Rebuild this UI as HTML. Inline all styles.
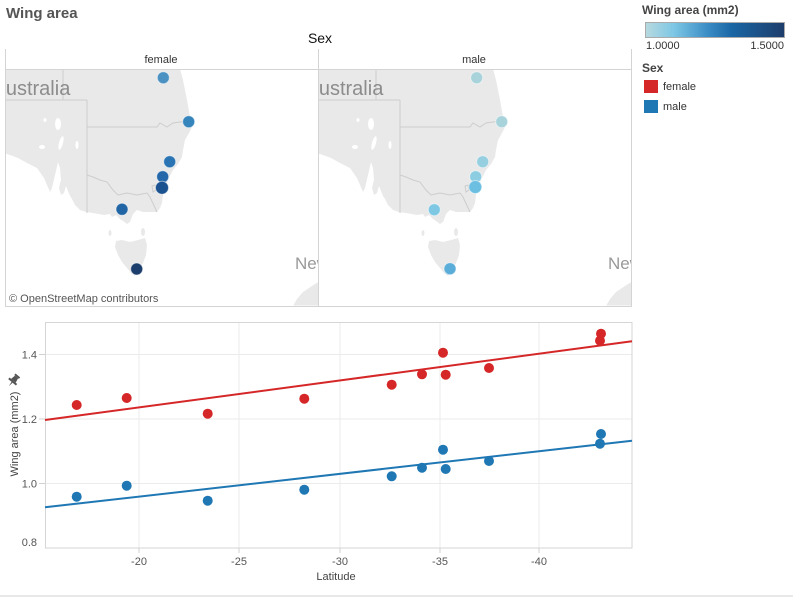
<!DOCTYPE html>
<html><head><meta charset="utf-8"><style>
html,body{margin:0;padding:0;background:#fff;}
svg{display:block;font-family:"Liberation Sans",Arial,sans-serif;}
</style></head><body>
<svg width="793" height="597" viewBox="0 0 793 597" xmlns="http://www.w3.org/2000/svg">
<defs>
<clipPath id="cf"><rect x="6" y="69.5" width="312" height="236"/></clipPath>
<clipPath id="cm"><rect x="318.5" y="69.5" width="312.5" height="236"/></clipPath>
<linearGradient id="gr" x1="0" x2="1" y1="0" y2="0">
<stop offset="0" stop-color="#b8d9df"/>
<stop offset="0.2" stop-color="#7ec7e5"/>
<stop offset="0.45" stop-color="#3a8cc5"/>
<stop offset="0.62" stop-color="#1a67a5"/>
<stop offset="1" stop-color="#1d3d6b"/>
</linearGradient>
<g id="map">
<path fill="#e9e9e9" d="M0,60 L180,60 L180,69 L183,80 L185,90 L187,100 L190,117 L192,127 L189,133 L185,140 L183,150 L182,157 L178,164 L173,170 L169,178 L167,183 L164,190 L163,195 L162,203 L160,208 L157,212 L150,212 L143,212 L137,210 L133,214 L130,222 L127,224 L123,221 L120,219 L116,215 L112,217 L110,214 L104,215 L93,213 L86,212 L80,210 L75,205 L72,199 L70,196 L68,191 L66,186 L64,193 L61,195 L59,188 L61,180 L60,168 L58,162 L55,175 L52,188 L50,192 L47,185 L44,178 L37,168 L27,163 L18,158 L10,155 L0,152 Z"/>
<path fill="#e9e9e9" d="M116,241 L122,240 L130,242 L138,240 L145,238 L147,245 L146,255 L143,263 L139,270 L135,276 L131,273 L127,268 L122,262 L118,255 L115,247 Z"/>
<ellipse cx="143" cy="232" rx="2" ry="4" fill="#e9e9e9"/>
<ellipse cx="110" cy="233" rx="1.5" ry="3" fill="#e9e9e9"/>
<path fill="#e9e9e9" d="M325,278 L312,286 L303,292 L297,299 L293,306 L325,310 Z"/>
<ellipse cx="58" cy="124" rx="3" ry="6" fill="#fff"/>
<ellipse cx="61" cy="143" rx="2" ry="7" fill="#fff" transform="rotate(15 61 143)"/>
<ellipse cx="42" cy="147" rx="3" ry="2" fill="#fff"/>
<ellipse cx="77" cy="145" rx="1.5" ry="4" fill="#fff"/>
<ellipse cx="45" cy="120" rx="1.5" ry="2" fill="#fff"/>
<g fill="none" stroke="#cdcdcd" stroke-width="1">
<path d="M63,69 L63,100"/>
<path d="M0,100 L87,100"/>
<path d="M87,100 L87,213"/>
<path d="M87,127 L157,127 L160,123 L167,127 L173,123 L180,122 L190,121"/>
<path d="M87,175 L93,177 L100,180 L107,182 L113,190 L118,195 L127,193 L137,195 L147,193 L150,197 L157,212"/>
<path d="M152,186 L155,185 L156,190 L153,192 Z"/>
</g>
<text x="-7.5" y="95" font-size="20" fill="#8c8c8c">Australia</text>
<text x="295" y="269" font-size="17" fill="#999">New Zealand</text>
</g>
</defs>

<!-- title -->
<text x="6" y="18" font-size="15" font-weight="bold" fill="#555">Wing area</text>
<text x="320" y="43" font-size="14" fill="#111" text-anchor="middle">Sex</text>

<!-- map panels -->
<g clip-path="url(#cf)"><use href="#map"/></g>
<g clip-path="url(#cm)"><use href="#map" transform="translate(313,0)"/></g>
<g fill="none" stroke="#d4d4d4" stroke-width="1">
<path d="M5.5,49 L5.5,306.5 L631.5,306.5 L631.5,49"/>
<path d="M318.5,49 L318.5,306.5"/>
<path d="M5.5,69.5 L631.5,69.5"/>
</g>
<text x="161" y="63" font-size="11" fill="#333" text-anchor="middle">female</text>
<text x="474" y="63" font-size="11" fill="#333" text-anchor="middle">male</text>
<text x="9" y="302" font-size="11" fill="#555">© OpenStreetMap contributors</text>

<!-- map points female -->
<g stroke="#fff" stroke-opacity="0.5" stroke-width="1">
<circle cx="163.3" cy="77.7" r="6" fill="#4b92c3"/>
<circle cx="188.7" cy="121.7" r="6" fill="#3584bb"/>
<circle cx="169.7" cy="161.7" r="6" fill="#2a74b3"/>
<circle cx="162.7" cy="176.7" r="6" fill="#2468a9"/>
<circle cx="162" cy="187.7" r="6.5" fill="#1b5290"/>
<circle cx="122" cy="209.3" r="6" fill="#2165a5"/>
<circle cx="136.7" cy="269" r="6" fill="#1c3e6d"/>
<!-- male -->
<circle cx="476.7" cy="77.7" r="6" fill="#a8d3db"/>
<circle cx="501.7" cy="121.7" r="6" fill="#a9d3db"/>
<circle cx="482.7" cy="161.7" r="6" fill="#96cfe0"/>
<circle cx="475.7" cy="176.7" r="6" fill="#8dcde2"/>
<circle cx="475.3" cy="187" r="6.5" fill="#6dbfe2"/>
<circle cx="434.3" cy="209.7" r="6" fill="#7ec8e4"/>
<circle cx="450" cy="268.7" r="6" fill="#5badd9"/>
</g>

<!-- legend -->
<text x="642" y="14" font-size="12" font-weight="bold" fill="#444">Wing area (mm2)</text>
<rect x="645.5" y="22.5" width="139" height="15" fill="url(#gr)" stroke="#aaa" stroke-width="1"/>
<text x="646" y="49" font-size="11" fill="#333">1.0000</text>
<text x="784" y="49" font-size="11" fill="#333" text-anchor="end">1.5000</text>
<text x="642" y="72" font-size="12" font-weight="bold" fill="#444">Sex</text>
<rect x="644" y="80" width="14" height="13" fill="#d62728"/>
<text x="663" y="90" font-size="11" fill="#333">female</text>
<rect x="644" y="100" width="14" height="13" fill="#1f77b4"/>
<text x="663" y="110" font-size="11" fill="#333">male</text>

<!-- scatter chart -->
<g stroke="#ebebeb" stroke-width="1">
<line x1="139" y1="322" x2="139" y2="548"/>
<line x1="239" y1="322" x2="239" y2="548"/>
<line x1="340" y1="322" x2="340" y2="548"/>
<line x1="440" y1="322" x2="440" y2="548"/>
<line x1="539" y1="322" x2="539" y2="548"/>
<line x1="45" y1="354.5" x2="632" y2="354.5"/>
<line x1="45" y1="419" x2="632" y2="419"/>
<line x1="45" y1="483.5" x2="632" y2="483.5"/>
</g>
<rect x="45.5" y="322.5" width="586.5" height="225.5" fill="none" stroke="#d6d6d6" stroke-width="1"/>
<g stroke="#d0d0d0" stroke-width="1">
<line x1="39" y1="354.5" x2="45" y2="354.5"/>
<line x1="39" y1="419" x2="45" y2="419"/>
<line x1="39" y1="483.5" x2="45" y2="483.5"/>
<line x1="139" y1="548" x2="139" y2="553"/>
<line x1="239" y1="548" x2="239" y2="553"/>
<line x1="340" y1="548" x2="340" y2="553"/>
<line x1="440" y1="548" x2="440" y2="553"/>
<line x1="539" y1="548" x2="539" y2="553"/>
</g>
<g font-size="11" fill="#555" text-anchor="end">
<text x="37" y="358.5">1.4</text>
<text x="37" y="423">1.2</text>
<text x="37" y="487.5">1.0</text>
<text x="37" y="546">0.8</text>
</g>
<g font-size="11" fill="#555" text-anchor="middle">
<text x="139" y="565">-20</text>
<text x="239" y="565">-25</text>
<text x="340" y="565">-30</text>
<text x="440" y="565">-35</text>
<text x="539" y="565">-40</text>
<text x="336" y="580" fill="#444">Latitude</text>
</g>
<text transform="translate(18,434) rotate(-90)" font-size="11" fill="#444" text-anchor="middle">Wing area (mm2)</text>
<!-- pin icon -->
<g transform="translate(14,380) rotate(40)" fill="#555">
<rect x="-3" y="-6" width="6" height="2"/>
<path d="M-2,-4 L2,-4 L3,1 L-3,1 Z"/>
<rect x="-5" y="1" width="10" height="2"/>
<path d="M-0.7,3 L0.7,3 L0,8 Z"/>
</g>

<!-- trend lines -->
<line x1="45" y1="420" x2="632" y2="341.3" stroke="#d62728" stroke-width="2"/>
<line x1="45" y1="507.3" x2="632" y2="440.7" stroke="#1f77b4" stroke-width="2"/>

<g fill="#d62728">
<circle cx="76.7" cy="405" r="5"/>
<circle cx="126.7" cy="398" r="5"/>
<circle cx="207.7" cy="413.7" r="5"/>
<circle cx="304.3" cy="398.7" r="5"/>
<circle cx="391.7" cy="384.7" r="5"/>
<circle cx="422" cy="374.3" r="5"/>
<circle cx="443" cy="352.7" r="5"/>
<circle cx="445.7" cy="374.7" r="5"/>
<circle cx="489" cy="368" r="5"/>
<circle cx="601" cy="333.7" r="5"/>
<circle cx="600" cy="340.7" r="5"/>
</g>
<g fill="#1f77b4">
<circle cx="76.7" cy="496.7" r="5"/>
<circle cx="126.7" cy="485.7" r="5"/>
<circle cx="207.7" cy="500.7" r="5"/>
<circle cx="304.3" cy="489.7" r="5"/>
<circle cx="391.7" cy="476.3" r="5"/>
<circle cx="422" cy="467.7" r="5"/>
<circle cx="443" cy="449.7" r="5"/>
<circle cx="445.7" cy="469" r="5"/>
<circle cx="489" cy="461" r="5"/>
<circle cx="601" cy="434" r="5"/>
<circle cx="600" cy="443.7" r="5"/>
</g>

<rect x="0" y="595" width="793" height="2" fill="#e8e8e8"/>
</svg>
</body></html>
